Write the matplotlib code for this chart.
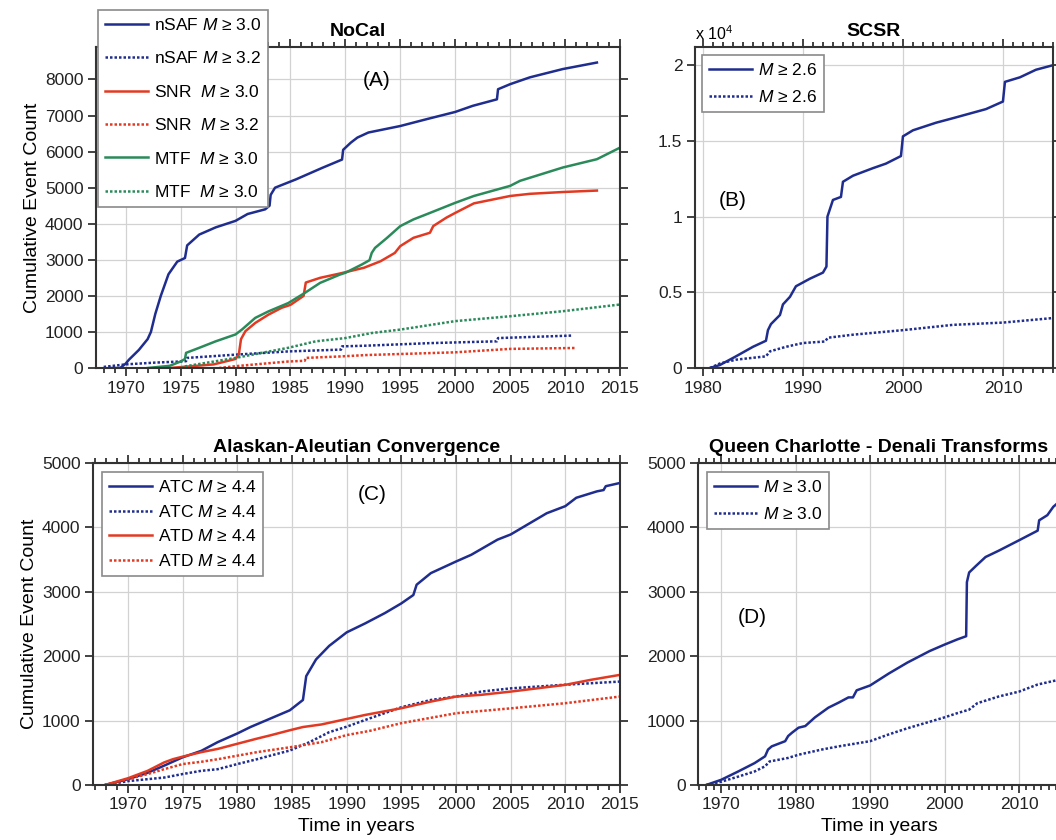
import matplotlib
matplotlib.use('Agg')
import matplotlib.pyplot as plt
import numpy as np
from matplotlib.ticker import MultipleLocator

plt.rcParams['font.family'] = ['Liberation Sans', 'DejaVu Sans']
plt.rcParams['mathtext.fontset'] = 'custom'
plt.rcParams['mathtext.rm'] = 'Liberation Sans'
plt.rcParams['mathtext.it'] = 'Liberation Sans:italic'

# (A) NoCal
nsaf30_t = [1968.5, 1969.5, 1970.0, 1970.3, 1971.2, 1972.0, 1972.3, 1972.7, 1973.2, 1973.9,
            1974.7, 1975.4, 1975.6, 1976.7, 1978.2, 1980.0, 1981.1, 1982.7, 1983.1, 1983.2,
            1983.6, 1985.5, 1987.9, 1989.7, 1989.8, 1990.5, 1991.1, 1992.1, 1995.0, 1997.4,
            2000.0, 2001.6, 2003.8, 2003.9, 2005.0, 2006.8, 2009.8, 2012.9]
nsaf30_n = [0, 0, 120, 230, 500, 800, 1000, 1500, 2000, 2600,
            2950, 3050, 3400, 3700, 3900, 4080, 4270, 4400, 4500, 4800,
            5000, 5230, 5550, 5780, 6050, 6250, 6390, 6530, 6710, 6900,
            7100, 7270, 7450, 7730, 7870, 8060, 8290, 8470]
nsaf32_t = [1968.0, 1970.0, 1972.7, 1975.0, 1975.5, 1975.6, 1980.0, 1984.8, 1989.6, 1989.7,
            1992.0, 1997.7, 2003.8, 2003.9, 2010.7]
nsaf32_n = [30, 100, 150, 180, 190, 280, 370, 460, 510, 600, 620, 690, 740, 830, 900]
snr30_t = [1974.0, 1978.0, 1980.0, 1980.3, 1980.5, 1980.9, 1981.8, 1983.0, 1984.2, 1985.0,
           1986.2, 1986.4, 1987.7, 1989.5, 1991.7, 1993.2, 1994.5, 1995.0, 1996.2, 1997.7,
           1998.0, 1999.2, 2000.0, 2001.7, 2005.0, 2006.8, 2009.8, 2012.9]
snr30_n = [0, 100, 250, 370, 800, 1020, 1250, 1480, 1670, 1750,
           2000, 2370, 2500, 2620, 2780, 2960, 3190, 3380, 3610, 3750,
           3935, 4170, 4300, 4565, 4770, 4830, 4880, 4920]
snr32_t = [1978.5, 1980.0, 1981.8, 1984.8, 1986.3, 1986.4, 1989.5, 1992.0, 2000.0, 2005.0, 2010.9]
snr32_n = [0, 50, 100, 180, 200, 280, 320, 360, 435, 530, 555]
mtf30_t = [1972.0, 1974.0, 1975.0, 1975.4, 1975.5, 1976.7, 1978.2, 1980.0, 1980.6, 1981.8,
           1983.0, 1984.8, 1986.3, 1987.7, 1989.5, 1990.0, 1991.5, 1992.2, 1992.4, 1992.7,
           1993.8, 1995.0, 1996.2, 1997.7, 2000.0, 2001.7, 2005.0, 2005.9, 2009.8, 2012.9, 2015.0]
mtf30_n = [0, 60, 180, 250, 420, 560, 740, 930, 1070, 1390,
           1570, 1800, 2080, 2360, 2590, 2640, 2870, 2990, 3190, 3330,
           3610, 3935, 4120, 4300, 4580, 4770, 5050, 5190, 5560, 5790, 6110]
mtf32_t = [1975.0, 1975.5, 1980.0, 1984.8, 1987.3, 1990.0, 1992.4, 1995.0, 2000.0, 2005.0, 2009.8, 2015.0]
mtf32_n = [0, 50, 280, 560, 740, 830, 970, 1065, 1300, 1435, 1575, 1760]

# (B) SCSR
scsr_t = [1980.7, 1981.7, 1983.3, 1985.0, 1986.3, 1986.5, 1986.8, 1987.7, 1988.0, 1988.7,
          1989.3, 1990.7, 1992.0, 1992.35, 1992.45, 1993.0, 1993.8, 1994.0, 1995.0, 1997.0,
          1998.3, 1999.8, 2000.0, 2001.0, 2003.3, 2005.0, 2008.3, 2010.0, 2010.2, 2011.7,
          2013.3, 2015.0]
scsr_n = [0, 200, 770, 1400, 1800, 2500, 2900, 3500, 4200, 4700,
          5400, 5900, 6300, 6700, 10000, 11100, 11300, 12300, 12700, 13200,
          13500, 14000, 15300, 15700, 16200, 16500, 17100, 17600, 18900, 19200,
          19700, 20000]
scsr_d_t = [1980.7, 1981.7, 1983.3, 1986.3, 1986.7, 1988.3, 1990.0, 1992.2, 1992.5, 1995.0,
            2000.0, 2005.0, 2010.0, 2015.0]
scsr_d_n = [0, 300, 550, 770, 1100, 1400, 1650, 1750, 2000, 2200, 2500, 2850, 3000, 3300]

# (C) Alaskan-Aleutian Convergence
atc_t = [1967.9, 1970.0, 1971.8, 1973.3, 1975.0, 1976.7, 1978.2, 1980.0, 1981.2, 1983.0,
         1984.8, 1986.0, 1986.3, 1987.2, 1988.4, 1990.0, 1991.7, 1993.5, 1995.0, 1996.1,
         1996.4, 1997.7, 2000.0, 2001.4, 2003.8, 2005.0, 2006.8, 2008.3, 2010.0, 2011.0,
         2012.9, 2013.5, 2013.7, 2015.0]
atc_n = [0, 90, 190, 300, 430, 530, 665, 800, 900, 1030,
         1160, 1320, 1690, 1950, 2160, 2370, 2510, 2670, 2820, 2950,
         3110, 3290, 3470, 3575, 3810, 3890, 4070, 4220, 4330, 4460,
         4560, 4580, 4640, 4690]
atc_d_t = [1967.9, 1970.0, 1971.8, 1973.3, 1975.0, 1976.7, 1978.2, 1980.0, 1981.8, 1983.0,
           1984.8, 1986.6, 1988.4, 1990.0, 1991.7, 1995.0, 1997.7, 2000.0, 2002.3, 2005.0,
           2009.8, 2015.0]
atc_d_n = [0, 60, 90, 115, 170, 220, 245, 325, 400, 455,
           535, 665, 820, 905, 1010, 1207, 1320, 1373, 1450, 1500,
           1555, 1606]
atd_t = [1967.9, 1970.0, 1971.8, 1973.3, 1974.1, 1975.0, 1976.7, 1978.2, 1980.0, 1981.8,
         1983.0, 1984.8, 1986.0, 1987.7, 1990.0, 1991.7, 1995.0, 1997.7, 2000.0, 2002.3,
         2005.0, 2010.0, 2012.3, 2015.0]
atd_n = [0, 105, 220, 350, 400, 440, 510, 560, 640, 720,
         770, 850, 900, 940, 1025, 1088, 1192, 1295, 1373, 1400,
         1450, 1555, 1632, 1710]
atd_d_t = [1967.9, 1970.0, 1971.8, 1973.3, 1975.0, 1976.7, 1978.2, 1980.0, 1981.8, 1984.8,
           1987.7, 1990.0, 1992.1, 1995.0, 2000.0, 2005.0, 2010.0, 2015.0]
atd_d_n = [0, 90, 170, 245, 325, 360, 400, 455, 510, 585,
           665, 775, 840, 960, 1114, 1190, 1270, 1373]

# (D) Queen Charlotte - Denali Transforms
qcd_t = [1968.0, 1970.0, 1972.3, 1974.5, 1975.9, 1976.3, 1976.8, 1978.6, 1979.0, 1979.5,
         1980.4, 1981.3, 1982.6, 1984.4, 1985.8, 1987.1, 1987.7, 1988.2, 1990.0, 1992.5,
         1995.0, 1998.0, 2000.0, 2001.7, 2002.9, 2003.0, 2003.3, 2004.2, 2005.5, 2007.3,
         2010.0, 2012.5, 2012.7, 2013.8, 2014.6, 2015.2]
qcd_n = [0, 80, 210, 340, 445, 550, 600, 680, 760, 810,
         890, 915, 1050, 1200, 1280, 1360, 1360, 1470, 1545, 1730,
         1900, 2080, 2180, 2260, 2310, 3150, 3300, 3400, 3540, 3640,
         3800, 3950, 4110, 4190, 4320, 4380]
qcd_d_t = [1968.0, 1970.0, 1972.3, 1974.5, 1975.9, 1976.5, 1979.0, 1980.4, 1983.5, 1985.8,
           1990.0, 1992.5, 1995.0, 2000.0, 2001.7, 2003.3, 2004.4, 2007.3, 2010.0, 2012.5, 2015.2]
qcd_d_n = [0, 50, 130, 210, 290, 365, 420, 470, 550, 600,
           680, 785, 880, 1050, 1115, 1170, 1270, 1375, 1450, 1560, 1630]

blue = '#1f2d8f'
red = '#e23a22'
green = '#2a8a5a'
dot = (0, (1, 0.8))
lw = 1.8


def style(ax, xlim, ylim, xmajor, yticks, ylabels=None):
    ax.set_xlim(*xlim)
    ax.set_ylim(*ylim)
    ax.xaxis.set_major_locator(MultipleLocator(xmajor))
    ax.xaxis.set_minor_locator(MultipleLocator(1))
    if ylabels is None:
        ax.set_yticks(yticks)
    else:
        ax.set_yticks(yticks, ylabels)
    ax.tick_params(which='both', direction='out', top=True, right=True,
                   labelsize=12.5, colors='#222222', width=1.2)
    ax.tick_params(which='major', length=6, pad=3)
    ax.tick_params(which='minor', length=3.5)
    ax.grid(True, color='#d2d2d2', lw=0.9)
    ax.set_axisbelow(True)
    for s in ax.spines.values():
        s.set_linewidth(1.5)
        s.set_color('#333333')


def legend(ax, anchor, spacing):
    leg = ax.legend(loc='upper left', bbox_to_anchor=anchor, borderaxespad=0,
                    fontsize=12.5, fancybox=False, edgecolor='#8a8a8a', framealpha=1,
                    handlelength=2.5, handletextpad=0.3, labelspacing=spacing,
                    borderpad=0.4)
    leg.get_frame().set_linewidth(1.2)


fig = plt.figure(figsize=(10.56, 8.4), dpi=100)

# A
ax = fig.add_axes([0.0909, 0.5619, 0.4962, 0.3821])
ax.plot(nsaf30_t, nsaf30_n, color=blue, lw=lw, label='nSAF $M$ ≥ 3.0')
ax.plot(nsaf32_t, nsaf32_n, color=blue, lw=lw, ls=dot, label='nSAF $M$ ≥ 3.2')
ax.plot(snr30_t, snr30_n, color=red, lw=lw, label='SNR  $M$ ≥ 3.0')
ax.plot(snr32_t, snr32_n, color=red, lw=lw, ls=dot, label='SNR  $M$ ≥ 3.2')
ax.plot(mtf30_t, mtf30_n, color=green, lw=lw, label='MTF  $M$ ≥ 3.0')
ax.plot(mtf32_t, mtf32_n, color=green, lw=lw, ls=dot, label='MTF  $M$ ≥ 3.0')
style(ax, (1967.3, 2015), (0, 8900), 5, np.arange(0, 8001, 1000))
ax.set_title('NoCal', fontsize=14, fontweight='bold', pad=8)
ax.set_ylabel('Cumulative Event Count', fontsize=14, labelpad=3)
ax.text(0.536, 0.897, '(A)', transform=ax.transAxes, fontsize=15, ha='center', va='center')
legend(ax, (0.004, 1.115), 1.0)

# B
ax = fig.add_axes([0.6581, 0.5619, 0.339, 0.3821])
ax.plot(scsr_t, np.array(scsr_n) / 1e4, color=blue, lw=lw, label='$M$ ≥ 2.6')
ax.plot(scsr_d_t, np.array(scsr_d_n) / 1e4, color=blue, lw=lw, ls=dot, label='$M$ ≥ 2.6')
style(ax, (1979.2, 2015), (0, 2.12), 10, [0, 0.5, 1, 1.5, 2], ['0', '0.5', '1', '1.5', '2'])
ax.set_title('SCSR', fontsize=14, fontweight='bold', pad=8)
ax.text(0.0, 1.012, r'x 10$^{4}$', transform=ax.transAxes, fontsize=11.5, ha='left', va='bottom')
ax.text(0.106, 0.523, '(B)', transform=ax.transAxes, fontsize=15, ha='center', va='center')
legend(ax, (0.02, 0.975), 0.62)

# C
ax = fig.add_axes([0.0881, 0.0655, 0.499, 0.3833])
ax.plot(atc_t, atc_n, color=blue, lw=lw, label='ATC $M$ ≥ 4.4')
ax.plot(atc_d_t, atc_d_n, color=blue, lw=lw, ls=dot, label='ATC $M$ ≥ 4.4')
ax.plot(atd_t, atd_n, color=red, lw=lw, label='ATD $M$ ≥ 4.4')
ax.plot(atd_d_t, atd_d_n, color=red, lw=lw, ls=dot, label='ATD $M$ ≥ 4.4')
style(ax, (1966.8, 2015), (0, 5000), 5, np.arange(0, 5001, 1000))
ax.set_title('Alaskan-Aleutian Convergence', fontsize=14, fontweight='bold', pad=8)
ax.set_ylabel('Cumulative Event Count', fontsize=14, labelpad=3)
ax.set_xlabel('Time in years', fontsize=14, labelpad=4)
ax.text(0.529, 0.901, '(C)', transform=ax.transAxes, fontsize=15, ha='center', va='center')
legend(ax, (0.017, 0.972), 0.5)

# D
ax = fig.add_axes([0.661, 0.0655, 0.3428, 0.3833])
ax.plot(qcd_t, qcd_n, color=blue, lw=lw, label='$M$ ≥ 3.0')
ax.plot(qcd_d_t, qcd_d_n, color=blue, lw=lw, ls=dot, label='$M$ ≥ 3.0')
style(ax, (1966.9, 2015.5), (0, 5000), 10, np.arange(0, 5001, 1000))
ax.set_title('Queen Charlotte - Denali Transforms', fontsize=14, fontweight='bold', pad=8)
ax.set_xlabel('Time in years', fontsize=14, labelpad=4)
ax.text(0.149, 0.519, '(D)', transform=ax.transAxes, fontsize=15, ha='center', va='center')
legend(ax, (0.025, 0.972), 0.62)

fig.savefig('out.png', dpi=100)
